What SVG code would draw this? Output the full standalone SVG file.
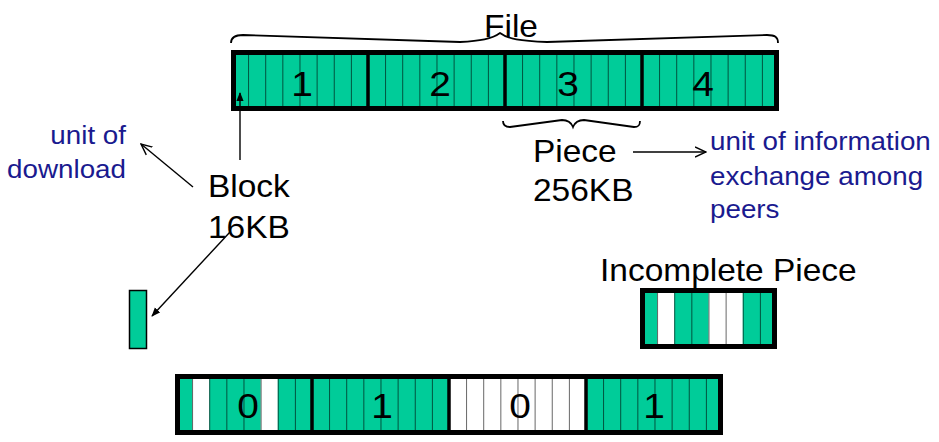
<svg xmlns="http://www.w3.org/2000/svg" width="939" height="442" viewBox="0 0 939 442">
<style>
  .t { font-family: "Liberation Sans", Arial, sans-serif; font-size: 31px; fill: #000; }
  .d { font-family: "Liberation Sans", Arial, sans-serif; font-size: 36px; fill: #000; text-anchor: middle; }
  .b { font-family: "Liberation Sans", Arial, sans-serif; font-size: 25.5px; fill: #1a1a8f; }
  .g { fill: #00CC99; }
  .w { fill: #ffffff; }
  .grid { fill: url(#blocks); }
  .border { fill: none; stroke: #000; stroke-width: 5; }
  .div { stroke: #000; stroke-width: 3.5; }
  .conn { stroke: #000; stroke-width: 1.4; fill: none; }
  .brace { stroke: #000; stroke-width: 1.8; fill: none; }
</style>
<defs>
  <pattern id="blocks" patternUnits="userSpaceOnUse" x="0" y="0" width="17.125" height="61">
    <line x1="0" y1="0" x2="0" y2="61" stroke="#000" stroke-width="1.2"/>
  </pattern>
  <marker id="arrF" viewBox="0 0 10 10" refX="9" refY="5" markerWidth="9" markerHeight="9" orient="auto" markerUnits="userSpaceOnUse">
    <path d="M0,1 L10,5 L0,9 Z" fill="#000"/>
  </marker>
  <marker id="arrO" viewBox="0 0 12 12" refX="11" refY="6" markerWidth="12" markerHeight="12" orient="auto" markerUnits="userSpaceOnUse">
    <path d="M0,1 L11,6 L0,11" fill="none" stroke="#000" stroke-width="1.4"/>
  </marker>
</defs>

<g id="file-label">
  <text class="t" text-anchor="middle" transform="translate(511,37) scale(1.08,1)">File</text>
</g>

<g id="file-brace">
  <path class="brace" d="M231,43 C231,37 235,35 243,35 L460,42 C480,41 492,39 500,33 C508,39 520,41 547,42 L767,35 C775,35 778,37 778,43"/>
</g>

<g id="file-bar" transform="translate(231,50)">
  <rect class="g" x="0" y="0" width="548" height="61"/>
  <rect class="grid" x="0" y="0" width="548" height="61"/>
  <line class="div" x1="137" y1="0" x2="137" y2="61"/>
  <line class="div" x1="274" y1="0" x2="274" y2="61"/>
  <line class="div" x1="411" y1="0" x2="411" y2="61"/>
  <rect class="border" x="2.5" y="2.5" width="543" height="56"/>
  <text class="d" transform="translate(71,46) scale(1.08,1)">1</text>
  <text class="d" transform="translate(209,46) scale(1.08,1)">2</text>
  <text class="d" transform="translate(337,46) scale(1.08,1)">3</text>
  <text class="d" transform="translate(472,46) scale(1.08,1)">4</text>
</g>

<g id="piece-brace">
  <path class="brace" d="M503,121 C503,126 506,127 510,127 L562,120 C567,120 571,122 573,127 C575,122 579,120 584,120 L634,127 C638,127 640,126 640,121"/>
</g>

<g id="block-label">
  <text class="t" transform="translate(208,197) scale(1.08,1)">Block</text>
  <text class="t" transform="translate(208,238) scale(1.08,1)">16KB</text>
</g>

<g id="download-label">
  <text class="b" text-anchor="end" transform="translate(126,144) scale(1.09,1)">unit of</text>
  <text class="b" text-anchor="end" transform="translate(126,178) scale(1.09,1)">download</text>
</g>

<g id="piece-label">
  <text class="t" transform="translate(533,162) scale(1.08,1)">Piece</text>
  <text class="t" transform="translate(533,201) scale(1.08,1)">256KB</text>
</g>

<g id="exchange-label">
  <text class="b" transform="translate(710,150) scale(1.09,1)">unit of information</text>
  <text class="b" transform="translate(710,185) scale(1.09,1)">exchange among</text>
  <text class="b" transform="translate(710,218) scale(1.09,1)">peers</text>
</g>

<g id="single-block">
  <rect class="g" x="129.5" y="290.5" width="17" height="58" stroke="#000" stroke-width="1.5"/>
</g>

<g id="incomplete-label">
  <text class="t" transform="translate(600,281) scale(1.08,1)">Incomplete Piece</text>
</g>

<g id="incomplete-piece" transform="translate(640,288)">
  <rect class="w" x="0" y="0" width="137" height="61"/>
  <rect class="g" x="0" y="0" width="17.125" height="61"/>
  <rect class="g" x="34.25" y="0" width="34.25" height="61"/>
  <rect class="g" x="102.75" y="0" width="34.25" height="61"/>
  <rect class="grid" x="0" y="0" width="137" height="61"/>
  <rect class="border" x="2.5" y="2.5" width="132" height="56"/>
</g>

<g id="bitfield-bar" transform="translate(175,374)">
  <rect class="w" x="0" y="0" width="548" height="61"/>
  <rect class="g" x="0" y="0" width="17.125" height="61"/>
  <rect class="g" x="34.25" y="0" width="51.375" height="61"/>
  <rect class="g" x="102.75" y="0" width="171.25" height="61"/>
  <rect class="g" x="411" y="0" width="137" height="61"/>
  <rect class="grid" x="0" y="0" width="548" height="61"/>
  <line class="div" x1="137" y1="0" x2="137" y2="61"/>
  <line class="div" x1="274" y1="0" x2="274" y2="61"/>
  <line class="div" x1="411" y1="0" x2="411" y2="61"/>
  <rect class="border" x="2.5" y="2.5" width="543" height="56"/>
  <text class="d" transform="translate(73,44) scale(1.08,1)">0</text>
  <text class="d" transform="translate(207,44) scale(1.08,1)">1</text>
  <text class="d" transform="translate(345,44) scale(1.08,1)">0</text>
  <text class="d" transform="translate(479,44) scale(1.08,1)">1</text>
</g>

<g id="connectors">
  <line class="conn" x1="240" y1="160" x2="240" y2="93" marker-end="url(#arrF)"/>
  <line class="conn" x1="193" y1="187" x2="141" y2="144" marker-end="url(#arrO)"/>
  <line class="conn" x1="230" y1="232" x2="152" y2="316" marker-end="url(#arrF)"/>
  <line class="conn" x1="633" y1="152" x2="706" y2="152" marker-end="url(#arrO)"/>
</g>
</svg>
